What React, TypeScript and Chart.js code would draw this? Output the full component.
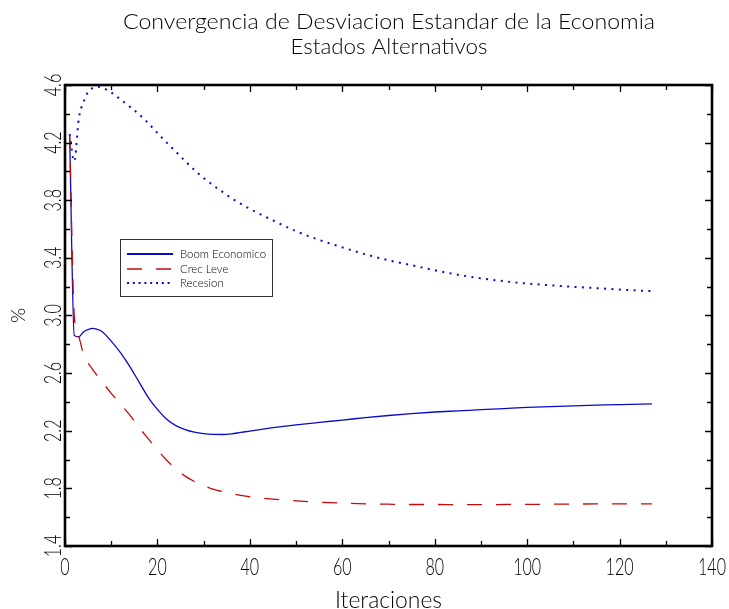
import { useEffect, useRef } from "react";
import { Chart, registerables } from "chart.js";

Chart.register(...registerables);

// ---- data ----
const iterations = [1, 2, 3, 4, 5, 6, 7, 8, 10, 12, 14, 16, 18, 20, 22, 24, 26, 28, 30, 32, 34, 36, 38, 40, 45, 50, 55, 60, 65, 70, 75, 80, 85, 90, 95, 100, 105, 110, 115, 120, 127];
const boomEconomico = [4.26, 2.862, 2.852, 2.886, 2.902, 2.91, 2.903, 2.889, 2.822, 2.742, 2.647, 2.539, 2.432, 2.348, 2.28, 2.236, 2.208, 2.19, 2.18, 2.175, 2.174, 2.178, 2.188, 2.198, 2.221, 2.241, 2.258, 2.274, 2.291, 2.306, 2.319, 2.33, 2.338, 2.346, 2.354, 2.362, 2.368, 2.373, 2.378, 2.382, 2.387];
const crecLeve = [4.26, 3.0, 2.85, 2.73, 2.67, 2.625, 2.58, 2.54, 2.46, 2.385, 2.31, 2.225, 2.145, 2.068, 1.995, 1.935, 1.885, 1.848, 1.82, 1.795, 1.778, 1.764, 1.752, 1.742, 1.725, 1.713, 1.704, 1.698, 1.693, 1.69, 1.688, 1.688, 1.687, 1.687, 1.688, 1.689, 1.69, 1.691, 1.692, 1.693, 1.693];
const recesion = [4.26, 4.07, 4.37, 4.48, 4.553, 4.58, 4.588, 4.582, 4.548, 4.5, 4.45, 4.397, 4.335, 4.267, 4.2, 4.137, 4.072, 4.01, 3.955, 3.905, 3.86, 3.815, 3.776, 3.74, 3.66, 3.585, 3.525, 3.473, 3.425, 3.383, 3.349, 3.314, 3.283, 3.258, 3.238, 3.222, 3.21, 3.199, 3.19, 3.18, 3.169];

const seriesNames = ["Boom Economico", "Crec Leve", "Recesion"];
const xTickValues = [0, 20, 40, 60, 80, 100, 120, 140];
const xMinorValues = [10, 30, 50, 70, 90, 110, 130];
const yTickLabels = ["1.4", "1.8", "2.2", "2.6", "3.0", "3.4", "3.8", "4.2", "4.6"];
const yMinorValues = [1.6, 2.0, 2.4, 2.8, 3.2, 3.6, 4.0, 4.4];
const titleLines = ["Convergencia de Desviacion Estandar de la Economia", "Estados Alternativos"];
const xTitle = "Iteraciones";
const yTitle = "%";

const BLUE = "#0a0ac8";
const RED = "#c80a0a";
const FONT = "Lato";

function fontFor(cap: number) {
  return `300 ${cap / 0.72}px ${FONT}, "Liberation Sans", sans-serif`;
}

function drawText(
  ctx: CanvasRenderingContext2D,
  text: string,
  x: number,
  y: number,
  cap: number,
  sx: number,
  align: CanvasTextAlign,
  rotate = false
) {
  ctx.save();
  ctx.translate(x, y);
  if (rotate) ctx.rotate(-Math.PI / 2);
  ctx.scale(sx, 1);
  ctx.font = fontFor(cap);
  ctx.textAlign = align;
  ctx.textBaseline = "alphabetic";
  ctx.fillStyle = "#000";
  ctx.fillText(text, 0, cap / 2);
  ctx.restore();
}

function scaleFor(ctx: CanvasRenderingContext2D, text: string, cap: number, target: number) {
  ctx.save();
  ctx.font = fontFor(cap);
  const w = ctx.measureText(text).width;
  ctx.restore();
  return w > 0 ? target / w : 1;
}

const framePlugin = {
  id: "frame",
  afterDatasetsDraw(chart: any) {
    const ctx: CanvasRenderingContext2D = chart.ctx;
    const { left, right, top, bottom } = chart.chartArea;
    const xs = chart.scales.x;
    const ys = chart.scales.y;

    ctx.save();
    // ticks
    ctx.strokeStyle = "#000";
    ctx.lineWidth = 1.3;
    const tickX = (v: number, len: number) => {
      const p = Math.round(xs.getPixelForValue(v)) + 0.5;
      ctx.beginPath();
      ctx.moveTo(p, bottom);
      ctx.lineTo(p, bottom - len);
      ctx.moveTo(p, top);
      ctx.lineTo(p, top + len);
      ctx.stroke();
    };
    const tickY = (v: number, len: number) => {
      const p = Math.round(ys.getPixelForValue(v)) + 0.5;
      ctx.beginPath();
      ctx.moveTo(left, p);
      ctx.lineTo(left + len, p);
      ctx.moveTo(right, p);
      ctx.lineTo(right - len, p);
      ctx.stroke();
    };
    xTickValues.forEach((v) => tickX(v, 7));
    xMinorValues.forEach((v) => tickX(v, 5));
    yTickLabels.forEach((v) => tickY(parseFloat(v), 7));
    yMinorValues.forEach((v) => tickY(v, 5));

    // frame
    ctx.lineWidth = 2.6;
    ctx.strokeRect(left, top, right - left, bottom - top);

    // tick labels
    const numCap = 17.5;
    const numSx = scaleFor(ctx, "000", numCap, 28);
    xTickValues.forEach((v) => {
      drawText(ctx, String(v), xs.getPixelForValue(v), 566, numCap, numSx, "center");
    });
    yTickLabels.forEach((t) => {
      drawText(ctx, t, 52, ys.getPixelForValue(parseFloat(t)), numCap, numSx, "center", true);
    });

    // axis titles
    const xtSx = scaleFor(ctx, xTitle, 17.5, 107);
    drawText(ctx, xTitle, (left + right) / 2, 599, 17.5, xtSx, "center");
    drawText(ctx, yTitle, 18, (top + bottom) / 2, 14, 1.0, "center", true);

    // title
    const tSx = scaleFor(ctx, titleLines[0], 16, 532);
    drawText(ctx, titleLines[0], 389, 21, 16, tSx, "center");
    drawText(ctx, titleLines[1], 389, 45.8, 15.5, tSx, "center");

    // legend
    ctx.lineWidth = 1;
    ctx.strokeStyle = "#333";
    ctx.strokeRect(120.5, 239.5, 152, 57);
    const rows = [254, 269, 283];
    const styles = [
      { color: BLUE, width: 2, dash: [] as number[] },
      { color: RED, width: 1.5, dash: [15, 14] },
      { color: BLUE, width: 2, dash: [2, 3.8] },
    ];
    rows.forEach((ry, i) => {
      ctx.save();
      ctx.strokeStyle = styles[i].color;
      ctx.lineWidth = styles[i].width;
      ctx.setLineDash(styles[i].dash);
      ctx.beginPath();
      ctx.moveTo(127, ry);
      ctx.lineTo(173, ry);
      ctx.stroke();
      ctx.restore();
    });
    const lSx = scaleFor(ctx, seriesNames[0], 8.5, 86);
    seriesNames.forEach((n, i) => drawText(ctx, n, 180, rows[i], 8.5, lSx, "left"));
    ctx.restore();
  },
};

export default function App() {
  const ref = useRef<HTMLCanvasElement | null>(null);
  useEffect(() => {
    if (!ref.current) return;
    const pts = (vals: number[]) => iterations.map((x, i) => ({ x, y: vals[i] }));
    const chart = new Chart(ref.current, {
      type: "line",
      data: {
        datasets: [
          {
            label: seriesNames[0],
            data: pts(boomEconomico),
            borderColor: BLUE,
            borderWidth: 1.3,
            pointRadius: 0,
            cubicInterpolationMode: "monotone",
            order: 2,
          },
          {
            label: seriesNames[1],
            data: pts(crecLeve),
            borderColor: RED,
            borderWidth: 1.3,
            borderDash: [15, 14],
            pointRadius: 0,
            cubicInterpolationMode: "monotone",
            order: 1,
          },
          {
            label: seriesNames[2],
            data: pts(recesion),
            borderColor: BLUE,
            borderWidth: 2,
            borderDash: [2, 5.4],
            pointRadius: 0,
            cubicInterpolationMode: "monotone",
            order: 3,
          },
        ],
      },
      options: {
        animation: false,
        responsive: false,
        devicePixelRatio: 1,
        layout: { padding: { left: 65, top: 85, right: 17, bottom: 63 } },
        plugins: { legend: { display: false }, title: { display: false }, tooltip: { enabled: false } },
        events: [],
        scales: {
          x: { type: "linear", min: 0, max: 140, display: false },
          y: { type: "linear", min: 1.4, max: 4.6, display: false },
        },
      },
      plugins: [framePlugin],
    } as any);
    return () => chart.destroy();
  }, []);
  return (
    <canvas
      ref={ref}
      width={729}
      height={609}
      style={{ position: "fixed", left: 0, top: 0, width: 729, height: 609, background: "#fff" }}
    />
  );
}
